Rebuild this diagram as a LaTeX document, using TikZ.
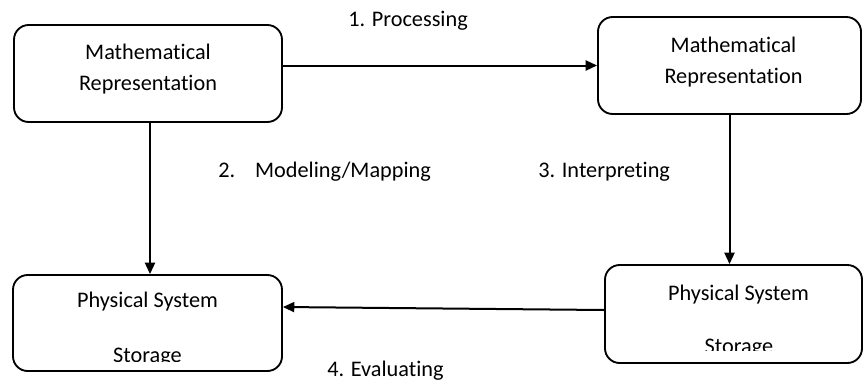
\documentclass[tikz,border=0pt]{standalone}
\usepackage{fontspec}
\setmainfont{Carlito}[Ligatures=NoCommon]
\usetikzlibrary{arrows.meta}
\begin{document}
\begin{tikzpicture}[x=0.75pt,y=-0.75pt,
  box/.style={draw, line width=1.4pt, rounded corners=11pt, inner sep=0pt},
  txt/.style={inner sep=0pt, anchor=base, font=\fontsize{16.7}{20}\selectfont},
  lbl/.style={inner sep=0pt, anchor=base west, font=\fontsize{16.7}{20}\selectfont},
  link/.style={line width=1.5pt, -{Triangle[length=8.5pt,width=7.5pt]}}]
\useasboundingbox (0,0) rectangle (863,379);

% the four boxes
\node[box, minimum width=201pt, minimum height=72.75pt] (A) at (148,73.5) {};
\node[box, minimum width=197.25pt, minimum height=72.75pt] (B) at (729.5,65.5) {};
\node[box, minimum width=201.75pt, minimum height=72pt] (C) at (147.5,323) {};
\node[box, minimum width=192.75pt, minimum height=73.5pt] (D) at (733.5,314) {};

% box texts
\node[txt] (a1) at (148,59) {Mathematical};
\node[txt] (a2) at (148,90) {Representation};
\node[txt] (b1) at (733.5,52) {Mathematical};
\node[txt] (b2) at (733.5,83) {Representation};
\node[txt] (c1) at (147.5,307) {Physical System};
\node[txt] (d1) at (738.5,300) {Physical System};
\begin{scope}
  \clip (13,275) rectangle (282,361);
  \node[txt] (c2) at (147.5,362) {Storage};
\end{scope}
\begin{scope}
  \clip (605,265) rectangle (862,350);
  \node[txt] (d2) at (739,353) {Storage};
\end{scope}

% connectors
\draw[link] (A.east |- B.west) -- (B.west);
\draw[link] ([xshift=1.5pt]A.south) -- ([xshift=1.5pt]A.south |- C.north);
\draw[link] (B.south) -- (B.south |- D.north);
\draw[link] ([yshift=3pt]D.west) -- ([yshift=12pt]C.east);

% step labels
\node[lbl] (l1) at (348,26) {1. Processing};
\node[lbl] (l2) at (218,177) {2.\hspace{15pt}Modeling/Mapping};
\node[lbl] (l3) at (538,177) {3. Interpreting};
\node[lbl] (l4) at (327,376) {4. Evaluating};
\end{tikzpicture}
\end{document}
